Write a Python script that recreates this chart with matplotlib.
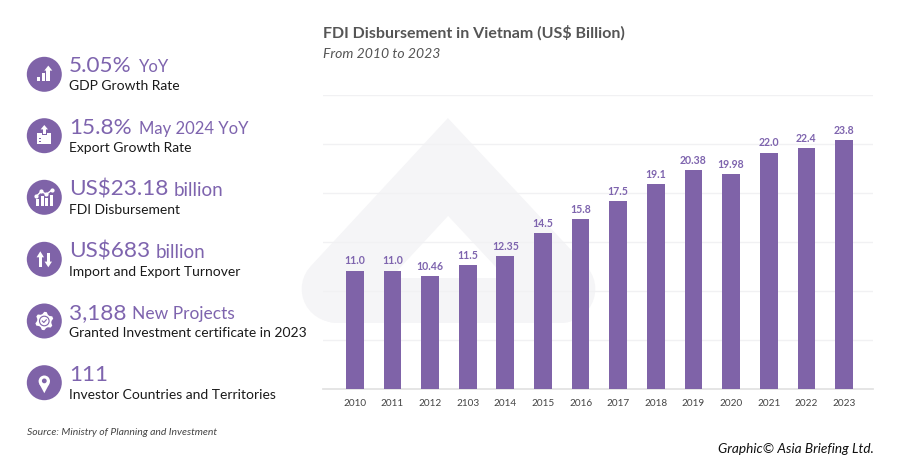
import numpy as np
import matplotlib
matplotlib.use("Agg")
from matplotlib import pyplot as plt
from matplotlib.lines import Line2D
from matplotlib.patches import Circle, Polygon, Rectangle

plt.rcParams['font.family'] = ['Lato', 'DejaVu Sans']

years = ["2010", "2011", "2012", "2103", "2014", "2015", "2016",
         "2017", "2018", "2019", "2020", "2021", "2022", "2023"]
# bar heights as drawn: the 2023 bar stands at about 23.18 although it is labelled 23.8
bar_heights = [11.0, 11.0, 10.46, 11.5, 12.35, 14.5, 15.8,
               17.5, 19.1, 20.38, 19.98, 22.0, 22.4, 23.18]
bar_labels = ["11.0", "11.0", "10.46", "11.5", "12.35", "14.5", "15.8",
              "17.5", "19.1", "20.38", "19.98", "22.0", "22.4", "23.8"]

stat_values = ["5.05%", "15.8%", "US$23.18", "US$683", "3,188", "111"]
stat_suffixes = ["YoY", "May 2024 YoY", "billion", "billion", "New Projects", ""]
stat_captions = ["GDP Growth Rate", "Export Growth Rate", "FDI Disbursement",
                 "Import and Export Turnover", "Granted Investment certificate in 2023",
                 "Investor Countries and Territories"]

PURPLE = "#7F63A8"
TEXT_PURPLE = "#7E64AE"
WATERMARK = "#F5F5F7"
WHITE = "white"

fig = plt.figure(figsize=(9, 4.73), dpi=100)

# page layer in pixel coordinates, for the watermark, icons and text
page = fig.add_axes([0, 0, 1, 1], zorder=0)
page.set_xlim(0, 900)
page.set_ylim(473, 0)
page.axis("off")

# watermark: a thick chevron with round ends, closed by a band along the bottom
page.add_line(Line2D([335, 448, 562], [289, 167, 289], color=WATERMARK, lw=48,
                     solid_joinstyle="miter", solid_capstyle="round"))
page.add_line(Line2D([335, 562], [300, 300], color=WATERMARK, lw=32.4, solid_capstyle="round"))


def rect(x0, y0, x1, y1, color=WHITE):
    page.add_patch(Rectangle((x0, y0), x1 - x0, y1 - y0, fc=color, ec="none", zorder=3))


def poly(points, color=WHITE):
    page.add_patch(Polygon(points, closed=True, fc=color, ec="none", zorder=3))


def icon_growth(cx, cy):
    rect(cx - 7.3, cy + 2.3, cx - 4.3, cy + 6.7)
    rect(cx - 2.7, cy - 1.7, cx + 0.3, cy + 6.7)
    rect(cx + 2, cy - 4, cx + 6, cy + 6.7)
    poly([(cx + 4, cy - 8.7), (cx + 8, cy - 3.7), (cx, cy - 3.7)])


def icon_export(cx, cy):
    rect(cx - 7, cy - 3, cx + 7, cy + 8.3)
    rect(cx - 2.8, cy - 3.2, cx + 2.8, cy - 0.5, PURPLE)
    poly([(cx, cy - 10.7), (cx + 3.7, cy - 6.3), (cx - 3.7, cy - 6.3)])
    rect(cx - 1.4, cy - 6.4, cx + 1.4, cy - 1.4)
    rect(cx - 5, cy + 2.3, cx - 3, cy + 3.3, PURPLE)
    rect(cx - 5, cy + 4.8, cx - 3, cy + 5.8, PURPLE)


def icon_fdi(cx, cy):
    for dx, top in [(-8.7, 1.5), (-3.8, -1), (1, 0.5), (5.7, -2.5)]:
        rect(cx + dx, cy + top, cx + dx + 3, cy + 8.3)
    page.plot([cx - 8, cx - 3, cx + 2, cx + 8], [cy - 1, cy - 6, cy - 3, cy - 7.5],
              color=WHITE, lw=1, marker="o", ms=2, zorder=3)


def icon_turnover(cx, cy):
    poly([(cx - 4, cy - 8), (cx - 0.3, cy - 2), (cx - 7.7, cy - 2)])
    rect(cx - 5.7, cy - 2.5, cx - 2.3, cy + 7.3)
    poly([(cx + 4, cy + 8), (cx + 7.7, cy + 2.3), (cx + 0.3, cy + 2.3)])
    rect(cx + 2.3, cy - 6, cx + 5.7, cy + 3)


def icon_gear(cx, cy):
    angles = np.radians(np.arange(0, 360, 15) + 30)
    radii = np.tile([9.2, 9.2, 7.2, 7.2], 6)
    poly([(cx + r * np.cos(a), cy + r * np.sin(a)) for a, r in zip(angles, radii)])
    page.add_patch(Circle((cx, cy), 4.8, fc=WHITE, ec=PURPLE, lw=0.8, zorder=4))
    page.plot([cx - 2, cx - 0.5, cx + 2], [cy, cy + 1.5, cy - 1.2], color=PURPLE, lw=0.8, zorder=5)


def icon_pin(cx, cy):
    page.add_patch(Circle((cx, cy - 1.5), 5.7, fc=WHITE, ec="none", zorder=3))
    poly([(cx - 5.2, cy + 0.8), (cx + 5.2, cy + 0.8), (cx, cy + 10.5)])
    page.add_patch(Circle((cx, cy - 1.8), 2.4, fc=PURPLE, ec="none", zorder=4))


icons = [icon_growth, icon_export, icon_fdi, icon_turnover, icon_gear, icon_pin]
icon_y = [74.3, 135.7, 197.3, 259.3, 321, 382.7]
value_base_y = [72, 133.5, 195.5, 257.5, 319, 380.5]
suffix_x = [138.7, 139, 173.3, 156, 132, 0]
suffix_size = [12, 12, 13.5, 13.5, 12.5, 0]

for i in range(6):
    page.add_patch(Circle((44.3, icon_y[i]), 17.5, fc=PURPLE, ec="none", zorder=2))
    icons[i](44.3, icon_y[i])
    page.text(69, value_base_y[i], stat_values[i], color=TEXT_PURPLE, fontsize=16.2, va="baseline")
    if stat_suffixes[i]:
        page.text(suffix_x[i], value_base_y[i], stat_suffixes[i], color=TEXT_PURPLE,
                  fontsize=suffix_size[i], va="baseline")
    page.text(69, value_base_y[i] + 18, stat_captions[i], color="#1A1A1A", fontsize=10, va="baseline")

page.text(323, 38, "FDI Disbursement in Vietnam (US$ Billion)", color="#555555",
          fontsize=11.5, fontweight="bold", va="baseline")
page.text(323, 58, "From 2010 to 2023", color="#555555", fontsize=10.1, style="italic", va="baseline")
page.text(27, 435, "Source: Ministry of Planning and Investment", color="#444444",
          fontsize=7.5, style="italic", va="baseline")
page.text(874, 453, "Graphic© Asia Briefing Ltd.", color="#111111", fontsize=9.8,
          style="italic", ha="right", va="baseline")

# chart layer
ax = fig.add_axes([323 / 900, (473 - 388.7) / 473, 549.7 / 900, 293.7 / 473], zorder=1)
ax.patch.set_alpha(0)
x = np.arange(len(years))
bars = ax.bar(x, bar_heights, width=0.47, color=PURPLE, zorder=3)
ax.bar_label(bars, labels=bar_labels, padding=3, color=TEXT_PURPLE, fontsize=7.6, fontweight="bold")

ax.set_xlim(-0.845, 13.763)
ax.set_ylim(0, 27.36)
ax.set_yticks(np.linspace(0, 27.36, 7))
ax.set_yticklabels([])
ax.set_xticks(x)
ax.set_xticklabels(years, fontsize=7.2, color="#444444")
ax.tick_params(axis="both", length=0)
ax.tick_params(axis="x", pad=7.5)
ax.grid(axis="y", color="#F1F1F3", lw=1, zorder=1)
for side in ["top", "right", "left"]:
    ax.spines[side].set_visible(False)
ax.spines["bottom"].set_color("#E3E3E3")
ax.spines["bottom"].set_linewidth(1.3)

fig.savefig("out.png", dpi=100)
